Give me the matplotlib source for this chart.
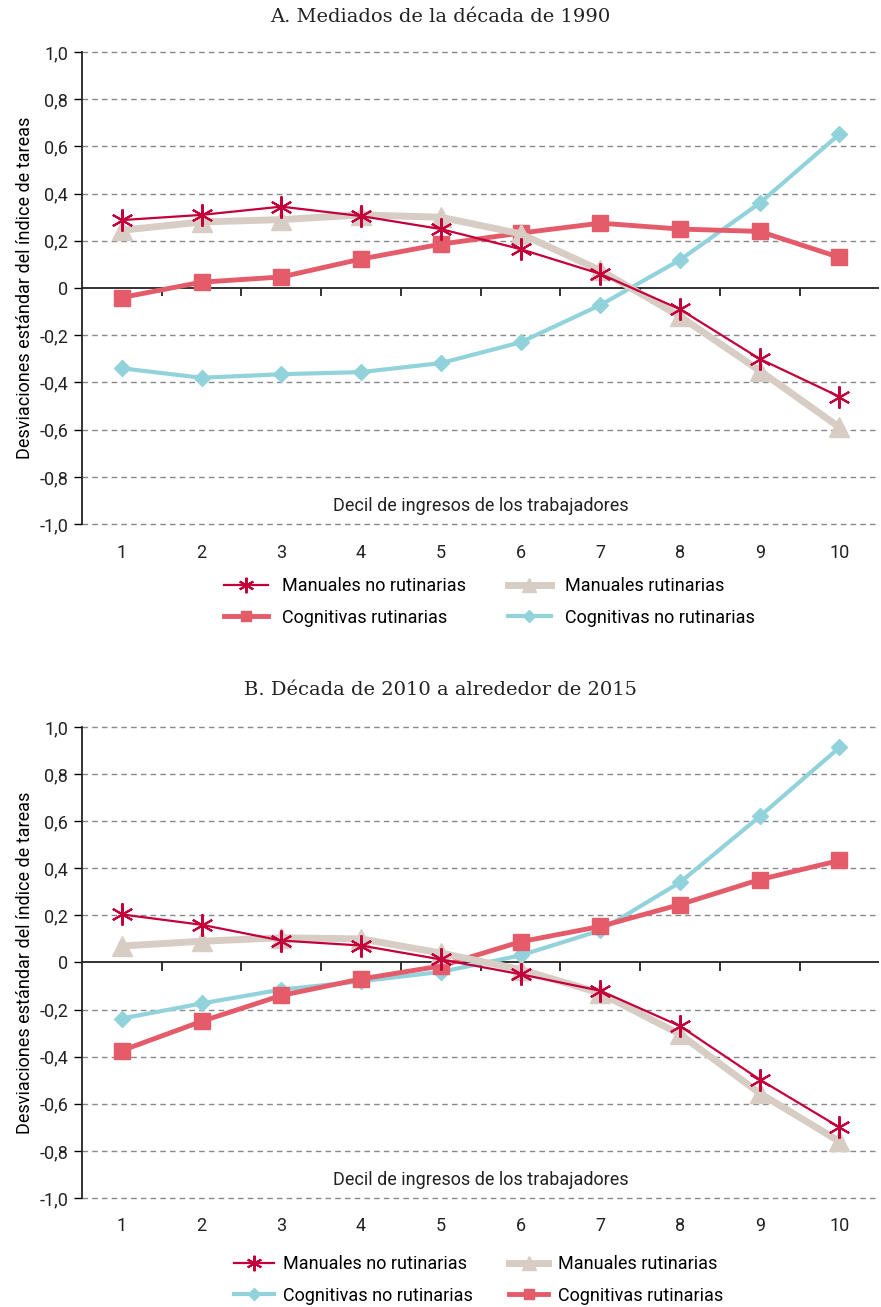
import matplotlib.pyplot as plt
import numpy as np

plt.rcParams['font.family'] = ['Roboto', 'DejaVu Sans']

deciles = [1, 2, 3, 4, 5, 6, 7, 8, 9, 10]
yticks = [-1.0, -0.8, -0.6, -0.4, -0.2, 0, 0.2, 0.4, 0.6, 0.8, 1.0]
ytick_labels = ['-1,0', '-0,8', '-0,6', '-0,4', '-0,2', '0', '0,2', '0,4', '0,6', '0,8', '1,0']

# panel A: mediados de la decada de 1990
a_man_norut = [0.288, 0.31, 0.345, 0.305, 0.25, 0.165, 0.06, -0.09, -0.30, -0.46]
a_man_rut = [0.245, 0.28, 0.29, 0.31, 0.30, 0.23, 0.075, -0.12, -0.35, -0.59]
a_cog_rut = [-0.04, 0.025, 0.047, 0.123, 0.186, 0.233, 0.275, 0.25, 0.24, 0.13]
a_cog_norut = [-0.34, -0.38, -0.365, -0.356, -0.318, -0.23, -0.072, 0.119, 0.36, 0.652]

# panel B: decada de 2010 a alrededor de 2015
b_man_norut = [0.204, 0.16, 0.093, 0.072, 0.013, -0.05, -0.12, -0.27, -0.497, -0.70]
b_man_rut = [0.07, 0.09, 0.105, 0.10, 0.04, -0.03, -0.13, -0.305, -0.555, -0.76]
b_cog_rut = [-0.374, -0.25, -0.14, -0.07, -0.015, 0.088, 0.153, 0.246, 0.352, 0.433]
b_cog_norut = [-0.238, -0.174, -0.115, -0.08, -0.04, 0.03, 0.136, 0.34, 0.62, 0.913]

c_crimson = '#C4003A'
c_beige = '#D8CDC5'
c_red = '#E45B6A'
c_cyan = '#92D3DB'


def draw(ax, mnr, mr, cr, cnr):
    h = {}
    h['cnr'], = ax.plot(deciles, cnr, color=c_cyan, lw=3, marker='D', ms=8.5, zorder=3,
                        label='Cognitivas no rutinarias')
    h['cr'], = ax.plot(deciles, cr, color=c_red, lw=3.5, marker='s', ms=11, zorder=4,
                       label='Cognitivas rutinarias')
    h['mr'], = ax.plot(deciles, mr, color=c_beige, lw=5, marker='^', ms=14, zorder=5,
                       label='Manuales rutinarias')
    h['mnr'], = ax.plot(deciles, mnr, color=c_crimson, lw=1.6, marker=(6, 2, 0), ms=16, mew=1.5,
                        zorder=6, label='Manuales no rutinarias')
    ax.set_xlim(0.5, 10.5)
    ax.set_ylim(-1.0, 1.0)
    ax.set_yticks(yticks)
    ax.set_yticklabels(ytick_labels, fontsize=13, color='#222222')
    ax.set_xticks(deciles)
    ax.set_xticklabels([str(d) for d in deciles], fontsize=13, color='#222222')
    ax.tick_params(axis='x', length=0, pad=14)
    ax.tick_params(axis='y', length=6, width=1, pad=4)
    for y in yticks:
        if y != 0:
            ax.axhline(y, color='#888888', lw=1, ls=(0, (4, 3)), zorder=1, clip_on=False)
    ax.axhline(0, color='#222222', lw=1.3, zorder=2)
    ax.vlines(np.arange(1.5, 10.5, 1), -0.035, 0, color='#222222', lw=1.3, zorder=2)
    for s in ['top', 'right', 'bottom']:
        ax.spines[s].set_visible(False)
    ax.spines['left'].set_linewidth(1.3)
    ax.spines['left'].set_color('#222222')
    ax.set_ylabel('Desviaciones estándar del índice de tareas', fontsize=13, labelpad=4)
    ax.text(0.5, 0.038, 'Decil de ingresos de los trabajadores', transform=ax.transAxes,
            ha='center', va='center', fontsize=13, color='#222222')
    return h


fig = plt.figure(figsize=(8.81, 13.07), dpi=100)
axA = fig.add_axes([0.0931, 0.599, 0.905, 0.3612])
axB = fig.add_axes([0.0931, 0.0834, 0.905, 0.3604])

hA = draw(axA, a_man_norut, a_man_rut, a_cog_rut, a_cog_norut)
hB = draw(axB, b_man_norut, b_man_rut, b_cog_rut, b_cog_norut)

fig.text(0.5, 1 - 17 / 1307, 'A. Mediados de la década de 1990', ha='center', va='center',
         fontsize=14, family=['DejaVu Serif'], color='#222222')
fig.text(0.5, 1 - 690 / 1307, 'B. Década de 2010 a alrededor de 2015', ha='center', va='center',
         fontsize=14, family=['DejaVu Serif'], color='#222222')

legA = [hA['mnr'], hA['cr'], hA['mr'], hA['cnr']]
fig.legend(legA, [h.get_label() for h in legA], ncol=2, loc='center',
           bbox_to_anchor=(0.556, 1 - 602 / 1307), frameon=False, fontsize=13,
           handlelength=2.4, columnspacing=2.3, labelspacing=0.75, handletextpad=0.8,
           markerscale=0.7)
legB = [hB['mnr'], hB['cnr'], hB['mr'], hB['cr']]
fig.legend(legB, [h.get_label() for h in legB], ncol=2, loc='center',
           bbox_to_anchor=(0.543, 1 - 1280 / 1307), frameon=False, fontsize=13,
           handlelength=2.2, columnspacing=2.0, labelspacing=0.75, handletextpad=0.5,
           markerscale=0.7)

fig.savefig('out.png', dpi=100)
